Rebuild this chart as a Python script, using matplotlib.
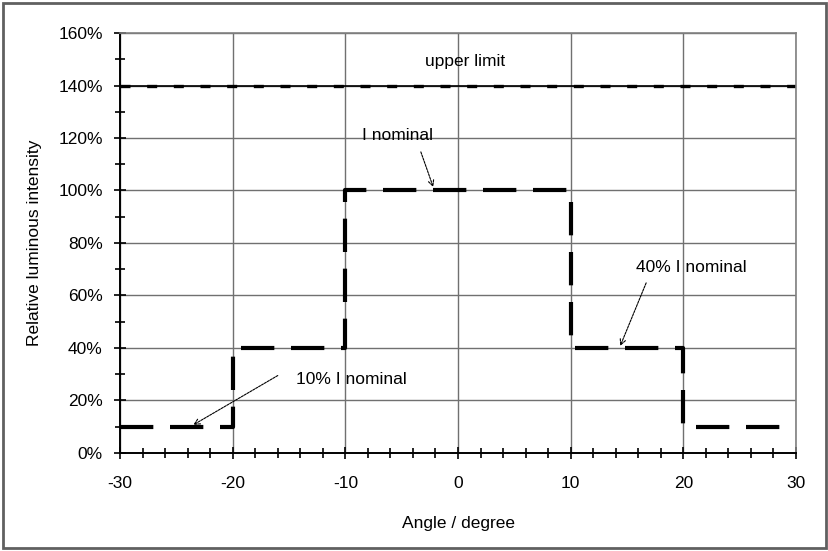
import matplotlib
matplotlib.use("Agg")
from matplotlib import pyplot as plt, patches
from matplotlib.ticker import MultipleLocator, PercentFormatter

# step profile of the luminous intensity
angle = [-30, -20, -20, -10, -10, 10, 10, 20, 20, 30]
intensity = [10, 10, 40, 40, 100, 100, 40, 40, 10, 10]

limit_angle = [-30, 30]
limit_value = [140, 140]

# label text, label position, arrow start, arrow tip
notes = [
    ('I nominal', (-5.4, 121), (-3.3, 114.7), (-2.2, 101.3)),
    ('40% I nominal', (20.7, 70.5), (16.7, 64.8), (14.4, 40.8)),
    ('10% I nominal', (-9.5, 28), (-16.0, 29.5), (-23.5, 10.7)),
]

plt.rcParams['font.family'] = ['Liberation Sans', 'DejaVu Sans']
plt.rcParams['axes.unicode_minus'] = False

fs = 12.5

fig = plt.figure(figsize=(8.29, 5.51), dpi=100)
ax = fig.add_axes([0.1448, 0.1779, 0.8154, 0.7622])

ax.set_xlim(-30, 30)
ax.set_ylim(0, 160)
ax.xaxis.set_major_locator(MultipleLocator(10))
ax.xaxis.set_minor_locator(MultipleLocator(2))
ax.yaxis.set_major_locator(MultipleLocator(20))
ax.yaxis.set_minor_locator(MultipleLocator(10))
ax.yaxis.set_major_formatter(PercentFormatter(decimals=0))

ax.grid(True, which='major', color='#707070', linewidth=1)
ax.set_axisbelow(True)

for side in ('top', 'right'):
    ax.spines[side].set_color('#808080')
    ax.spines[side].set_linewidth(1.2)
for side in ('left', 'bottom'):
    ax.spines[side].set_color('black')
    ax.spines[side].set_linewidth(1.4)

ax.tick_params(which='both', direction='inout', color='black', width=1.2, labelsize=fs)
ax.tick_params(which='major', length=9, pad=8)
ax.tick_params(axis='x', which='major', pad=12)
ax.tick_params(which='minor', length=7)

ax.axhline(140, color='black', linewidth=1.2)
ax.plot(limit_angle, limit_value, color='black', linewidth=2.4, dashes=(3.0, 5.0))
ax.plot(angle, intensity, color='black', linewidth=3, dashes=(8, 4))

ax.text(0.6, 149, 'upper limit', ha='center', va='center', fontsize=fs)

for label, pos, start, tip in notes:
    ax.text(pos[0], pos[1], label, ha='center', va='center', fontsize=fs)
    ax.annotate('', xy=tip, xytext=start,
                arrowprops=dict(arrowstyle='->', color='black', linewidth=0.8,
                                linestyle=(0, (2, 1)), shrinkA=0, shrinkB=0))

ax.set_xlabel('Angle / degree', fontsize=fs, labelpad=18)
ax.set_ylabel('Relative luminous intensity', fontsize=fs, labelpad=12)

fig.patches.append(patches.Rectangle((0.004, 0.005), 0.992, 0.99, transform=fig.transFigure,
                                     fill=False, edgecolor='#606060', linewidth=2))

fig.savefig('out.png', dpi=100)
